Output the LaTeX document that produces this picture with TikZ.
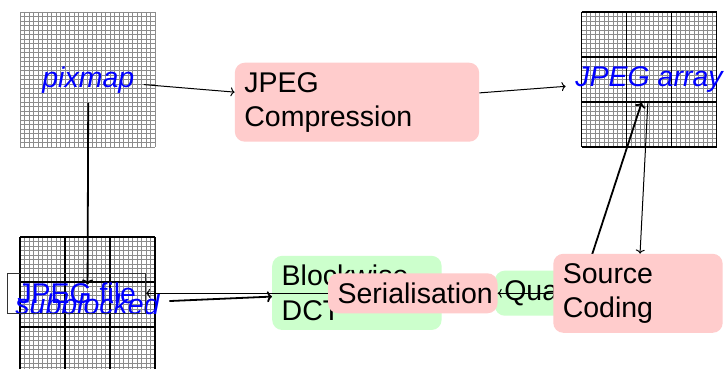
\documentclass[tikz,border=0pt]{standalone}
\usepackage{fontspec}
\setmainfont{Liberation Sans}
\usetikzlibrary{arrows.meta}
\definecolor{boxpink}{HTML}{FFCCCC}
\definecolor{boxgreen}{HTML}{CCFFCC}
\definecolor{gridgray}{HTML}{8C8C8C}
\begin{document}
\begin{tikzpicture}[x=1pt,y=-1pt,
  every node/.style={font=\fontsize{28.5}{34.2}\selectfont, inner sep=9.5pt},
  stage/.style={rounded corners=10pt, align=left, anchor=center},
  pinkbox/.style={stage, fill=boxpink},
  greenbox/.style={stage, fill=boxgreen},
  gridlabel/.style={text=blue, font=\fontsize{28.5}{34.2}\selectfont\itshape},
  filebox/.style={draw=black!80, line width=1pt, text=blue},
  thinarrow/.style={-{To[length=4pt,width=9pt]}, line width=1pt},
  thickarrow/.style={-{To[length=5pt,width=11pt]}, line width=1.8pt},
  finegrid/.style={draw=gridgray, line width=0.8pt},
  coarsegrid/.style={draw=black, line width=1.1pt}]
\useasboundingbox[fill=white] (0,0) rectangle (724,369);

% pixmap grid
\foreach \i in {0,...,30} {
  \draw[finegrid] (20+\i*4.5,12) -- (20+\i*4.5,147);
  \draw[finegrid] (20,12+\i*4.5) -- (155,12+\i*4.5);
}
% subblocked grid
\foreach \i in {0,...,30} {
  \draw[finegrid] (20+\i*4.5,237) -- (20+\i*4.5,372);
  \draw[finegrid] (20,237+\i*4.5) -- (155,237+\i*4.5);
}
\foreach \i in {0,...,3} {
  \draw[coarsegrid] (20+\i*45,237) -- (20+\i*45,372);
  \draw[coarsegrid] (20,237+\i*45) -- (155,237+\i*45);
}
% JPEG array grid
\foreach \i in {0,...,30} {
  \draw[finegrid] (581.5+\i*4.5,12) -- (581.5+\i*4.5,147);
  \draw[finegrid] (581.5,12+\i*4.5) -- (716.5,12+\i*4.5);
}
\foreach \i in {0,...,3} {
  \draw[coarsegrid] (581.5+\i*45,12) -- (581.5+\i*45,147);
  \draw[coarsegrid] (581.5,12+\i*45) -- (716.5,12+\i*45);
}

% labels on grids
\node[gridlabel] (pixmap) at (88.3,80) {pixmap};
\node[gridlabel] (subblocked) at (87.5,304.6) {subblocked};
\node[gridlabel] (array) at (649,80) {JPEG array};
\node[filebox] (file) at (76.7,293.3) {JPEG file};

% process boxes
\node[pinkbox, text width=225.3pt] (comp) at (357,102.2) {JPEG\\Compression};
\node[greenbox, text width=150.4pt] (dct) at (356.9,292.9) {Blockwise\\DCT};
\node[greenbox, text width=150.4pt] (quant) at (579.5,293.2) {Quantisation};
\node[pinkbox, text width=150.4pt] (ser) at (412.8,293.3) {Serialisation};
\draw[thickarrow] (quant) -- (array);
\node[pinkbox, text width=150.4pt] (src) at (638,293.3) {Source\\Coding};

% connectors
\draw[thickarrow] (pixmap) -- (subblocked);
\draw[thinarrow] (pixmap) -- (comp);
\draw[thinarrow] (comp) -- (array);
\draw[thinarrow] (array) -- (src);
\draw[thickarrow] (subblocked) -- (dct);
\draw[thinarrow] (src) -- (ser);
\draw[thinarrow] (ser) -- (file);
\end{tikzpicture}
\end{document}
